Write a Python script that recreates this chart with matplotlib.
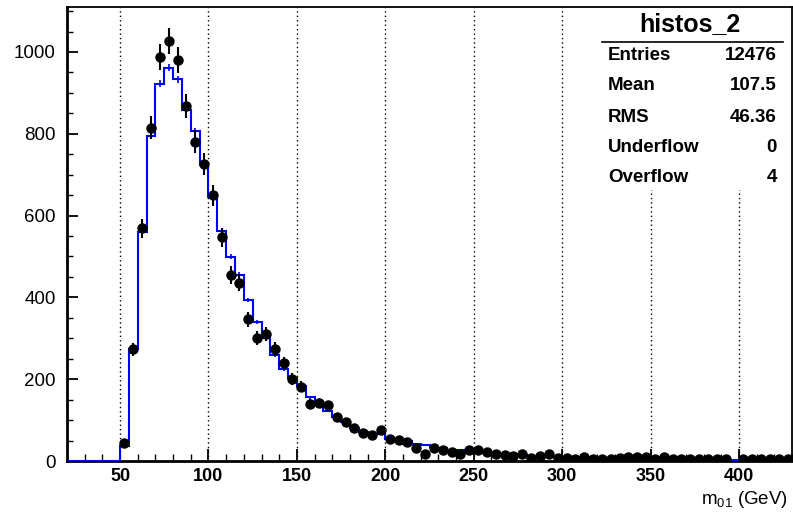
import numpy as np
import matplotlib
matplotlib.use("Agg")
import matplotlib.pyplot as plt
from matplotlib.patches import Rectangle
from matplotlib.lines import Line2D
from matplotlib.ticker import MultipleLocator

plt.rcParams['font.family'] = ['Liberation Sans', 'DejaVu Sans']
plt.rcParams['mathtext.fontset'] = 'custom'
plt.rcParams['mathtext.rm'] = 'Liberation Sans'

# ---- data ----
x_min, x_max, bin_width = 20, 430, 5
empty_bins = 6  # bins from 20 to 50
data_counts = [45, 273, 569, 815, 988, 1027, 980, 868, 781, 726,
               650, 547, 455, 436, 346, 300, 310, 274, 240, 200,
               182, 139, 143, 136, 108, 95, 81, 68, 63, 75,
               53, 51, 47, 32, 16, 33, 28, 22, 16, 27,
               26, 21, 17, 15, 12, 17, 7, 12, 17, 7,
               7, 5, 9, 5, 6, 5, 8, 10, 11, 10,
               4, 10, 5, 5, 5, 5, 6, 5, 5, 0,
               6, 5, 6, 4, 4, 5]
mc_counts = [37, 275, 561, 795, 922, 961, 933, 858, 807, 724,
             646, 563, 499, 455, 394, 339, 300, 259, 225, 203,
             184, 156, 139, 123, 108, 95, 81, 72, 66, 66,
             53, 52, 50, 42, 40, 34, 32, 28, 27, 25,
             22, 20, 19, 17, 15, 14, 13, 12, 11, 10,
             8, 7, 7, 7, 7, 6, 6, 6, 6, 6,
             6, 5, 5, 5, 5, 5, 5, 5, 5, 3,
             3, 3, 3, 3, 3, 3]
mc_weight = 0.078

stats_title = "histos_2"
stats_labels = ["Entries", "Mean", "RMS", "Underflow", "Overflow"]
stats_values = ["12476", "107.5", "46.36", "0", "4"]
x_ticks = [50, 100, 150, 200, 250, 300, 350, 400]
y_ticks = [0, 200, 400, 600, 800, 1000]

# ---- derived ----
edges = np.arange(x_min, x_max + bin_width / 2, bin_width)
centers = 0.5 * (edges[:-1] + edges[1:])
data = np.concatenate([np.zeros(empty_bins), data_counts])
mc = np.concatenate([np.zeros(empty_bins), mc_counts])
data_err = np.sqrt(data)
mc_err = np.sqrt(mc * mc_weight)

W, H = 793, 514
fig = plt.figure(figsize=(W / 100, H / 100), dpi=100)
ax = fig.add_axes([67 / W, 1 - 461 / H, (792 - 67) / W, (461 - 7) / H])

ax.set_xlim(x_min, x_max)
ax.set_ylim(0, 1110)

# grid
for xt in x_ticks:
    ax.axvline(xt, color='black', lw=1.0, ls=(0, (1, 2.2)), zorder=1)

# MC histogram
ax.stairs(mc, edges, color='#0000ff', lw=1.5, baseline=None, zorder=3)
ax.errorbar(centers[empty_bins:], mc[empty_bins:], yerr=mc_err[empty_bins:],
            fmt='none', ecolor='#0000ff', elinewidth=1.2, capsize=0, zorder=3)

# data
mask = data > 0
ax.errorbar(centers[mask], data[mask], yerr=data_err[mask], fmt='o', color='black',
            markersize=6.5, elinewidth=1.5, capsize=0, zorder=4)

# ticks
ax.set_xticks(x_ticks)
ax.set_yticks(y_ticks)
ax.xaxis.set_minor_locator(MultipleLocator(10))
ax.yaxis.set_minor_locator(MultipleLocator(50))
ax.tick_params(axis='both', which='both', direction='in', top=False, right=False, color='black')
ax.tick_params(axis='x', which='major', length=9, width=1.3, pad=5, labelsize=13)
ax.tick_params(axis='x', which='minor', length=5, width=1.0)
ax.tick_params(axis='y', which='major', length=8, width=1.3, pad=8, labelsize=13.5)
ax.tick_params(axis='y', which='minor', length=4.5, width=1.0)
for lab in ax.get_xticklabels():
    lab.set_fontweight('bold')

for s in ['left', 'bottom']:
    ax.spines[s].set_linewidth(2.0)
for s in ['top', 'right']:
    ax.spines[s].set_linewidth(1.3)

# x label
fig.text(788 / W, 1 - 500 / H, r'$\mathregular{m_{01}}$ (GeV)', ha='right', va='center', fontsize=13.5)

# stats box
box = Rectangle((598 / W, 1 - 190 / H), (790 - 598) / W, (190 - 8) / H,
                transform=fig.transFigure, facecolor='white', edgecolor='none', zorder=5)
fig.patches.append(box)
fig.text(690 / W, 1 - 24 / H, stats_title, ha='center', va='center', fontsize=18,
         fontweight='bold', zorder=6)
fig.lines.append(Line2D([602 / W, 783 / W], [1 - 42 / H, 1 - 42 / H], transform=fig.transFigure,
                        color='black', lw=1.2, zorder=6))
row_y = [55, 86, 117, 148, 178]
for lab, val, yy in zip(stats_labels, stats_values, row_y):
    fig.text(608 / W, 1 - yy / H, lab, ha='left', va='center', fontsize=13.5, fontweight='bold', zorder=6)
    fig.text(777 / W, 1 - yy / H, val, ha='right', va='center', fontsize=13.5, fontweight='bold', zorder=6)

fig.savefig('out.png', dpi=100)
